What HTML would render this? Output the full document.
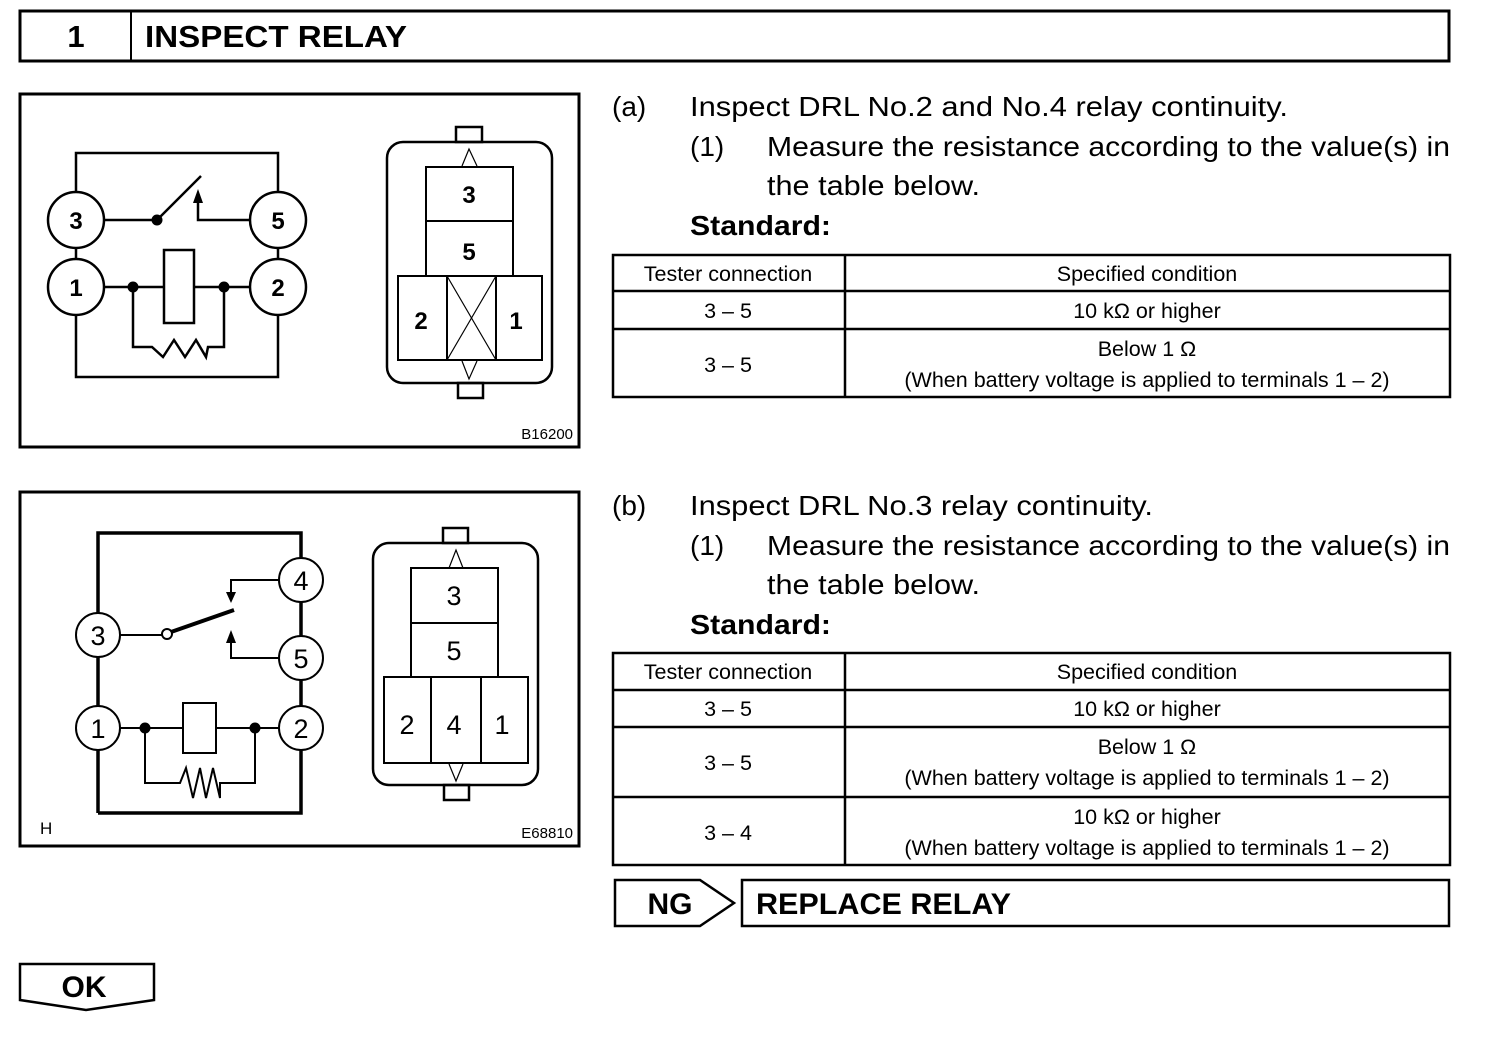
<!DOCTYPE html>
<html><head><meta charset="utf-8"><style>html,body{margin:0;padding:0;background:#fff}svg{display:block}</style></head>
<body>
<svg width="1504" height="1054" viewBox="0 0 1504 1054" xmlns="http://www.w3.org/2000/svg" font-family="Liberation Sans, Arial, sans-serif" fill="none" stroke="#000">
<!-- Header -->
<rect x="20" y="11" width="1429" height="50" stroke-width="3"/>
<line x1="131" y1="11" x2="131" y2="61" stroke-width="2"/>
<text x="76" y="47" font-size="31" font-weight="bold" fill="#000" stroke="none" text-anchor="middle">1</text>
<text x="145" y="47" font-size="31" font-weight="bold" fill="#000" stroke="none" textLength="262" lengthAdjust="spacingAndGlyphs">INSPECT RELAY</text>

<!-- Figure 1 -->
<rect x="20" y="94" width="559" height="353" stroke-width="3"/>
<g stroke-width="2.5">
<polyline points="76,192 76,153 278,153 278,192"/>
<polyline points="76,315 76,377 278,377 278,315"/>
<line x1="76" y1="247" x2="76" y2="259"/>
<line x1="278" y1="247" x2="278" y2="259"/>
<circle cx="76" cy="220" r="28"/><circle cx="278" cy="220" r="28"/>
<circle cx="76" cy="287" r="28"/><circle cx="278" cy="287" r="28"/>
<line x1="104" y1="220" x2="157" y2="220"/>
<line x1="157" y1="220" x2="201" y2="176"/>
<polyline points="250,220 198,220 198,200"/>
<rect x="164" y="250" width="30" height="73"/>
<line x1="104" y1="287" x2="164" y2="287"/>
<line x1="194" y1="287" x2="250" y2="287"/>
<polyline points="133,287 133,347 152,347 163,357 174,340 185,357 196,340 206,357 208,347 224,347 224,287"/>
</g>
<circle cx="157" cy="220" r="5" fill="#000"/>
<polygon points="198,189 193,203 203,203" fill="#000" stroke="none"/>
<circle cx="133" cy="287" r="5" fill="#000"/>
<circle cx="224" cy="287" r="5" fill="#000"/>
<g fill="#000" stroke="none" font-size="24" font-weight="bold" text-anchor="middle">
<text x="76" y="229">3</text><text x="278" y="229">5</text>
<text x="76" y="296">1</text><text x="278" y="296">2</text>
<text x="469" y="203">3</text><text x="469" y="260">5</text>
<text x="421" y="329">2</text><text x="516" y="329">1</text>
</g>
<g stroke-width="2.5">
<rect x="456" y="127" width="26" height="15"/>
<rect x="458" y="383" width="25" height="15"/>
<rect x="387" y="142" width="165" height="241" rx="16"/>
</g>
<g stroke-width="2">
<rect x="426" y="167" width="87" height="54"/>
<rect x="426" y="221" width="87" height="55"/>
<rect x="398" y="276" width="144" height="84"/>
<line x1="447" y1="276" x2="447" y2="360"/>
<line x1="496" y1="276" x2="496" y2="360"/>
</g>
<g stroke-width="1.2">
<line x1="447" y1="276" x2="496" y2="360"/><line x1="496" y1="276" x2="447" y2="360"/>
<polyline points="462,166 469,149 477,166"/>
<polyline points="462,361 469,379 477,361"/>
</g>
<text x="573" y="439" font-size="15" fill="#000" stroke="none" text-anchor="end">B16200</text>

<!-- Figure 2 -->
<rect x="20" y="492" width="559" height="354" stroke-width="3"/>
<g stroke-width="3.5">
<polyline points="98,613 98,533 301,533 301,558"/>
<line x1="98" y1="657" x2="98" y2="706"/>
<line x1="98" y1="750" x2="98" y2="813"/>
<polyline points="98,813 301,813 301,750"/>
<line x1="301" y1="602" x2="301" y2="636"/>
<line x1="301" y1="680" x2="301" y2="706"/>
</g>
<g stroke-width="2">
<circle cx="98" cy="635" r="22"/><circle cx="301" cy="580" r="22"/>
<circle cx="301" cy="658" r="22"/><circle cx="98" cy="728" r="22"/>
<circle cx="301" cy="728" r="22"/>
<line x1="120" y1="635" x2="162" y2="635"/>
<polyline points="279,580 231,580 231,594"/>
<polyline points="279,658 231,658 231,640"/>
<rect x="183" y="703" width="33" height="50"/>
<line x1="120" y1="728" x2="183" y2="728"/>
<line x1="216" y1="728" x2="279" y2="728"/>
<polyline points="145,728 145,783 180,783 186,768 193,798 200,768 206,798 213,768 220,798 220,783 255,783 255,728"/>
<circle cx="167" cy="634" r="5" fill="#fff"/>
</g>
<line x1="171" y1="632" x2="234" y2="610" stroke-width="4"/>
<polygon points="231,603 226,592 236,592" fill="#000" stroke="none"/>
<polygon points="231,630 226,643 236,643" fill="#000" stroke="none"/>
<circle cx="145" cy="728" r="5" fill="#000"/>
<circle cx="255" cy="728" r="5" fill="#000"/>
<g fill="#000" stroke="none" font-size="27" text-anchor="middle">
<text x="98" y="645">3</text><text x="301" y="590">4</text><text x="301" y="668">5</text>
<text x="98" y="738">1</text><text x="301" y="738">2</text>
<text x="454" y="605">3</text><text x="454" y="660">5</text>
<text x="407" y="734">2</text><text x="454" y="734">4</text><text x="502" y="734">1</text>
</g>
<g stroke-width="2.5">
<rect x="443" y="528" width="25" height="15"/>
<rect x="444" y="785" width="25" height="15"/>
<rect x="373" y="543" width="165" height="242" rx="16"/>
</g>
<g stroke-width="2">
<rect x="411" y="568" width="87" height="55"/>
<rect x="411" y="623" width="87" height="54"/>
<rect x="384" y="677" width="144" height="86"/>
<line x1="431" y1="677" x2="431" y2="763"/>
<line x1="481" y1="677" x2="481" y2="763"/>
</g>
<g stroke-width="1.2">
<polyline points="449,568 456,550 463,568"/>
<polyline points="449,764 456,781 463,764"/>
</g>
<text x="40" y="834" font-size="17" fill="#000" stroke="none">H</text>
<text x="573" y="838" font-size="15" fill="#000" stroke="none" text-anchor="end">E68810</text>

<!-- Text blocks -->
<g fill="#000" stroke="none" font-size="28">
<text x="612" y="116">(a)</text>
<text x="690" y="116" textLength="598" lengthAdjust="spacingAndGlyphs">Inspect DRL No.2 and No.4 relay continuity.</text>
<text x="690" y="156">(1)</text>
<text x="767" y="156" textLength="683" lengthAdjust="spacingAndGlyphs">Measure the resistance according to the value(s) in</text>
<text x="767" y="195" textLength="213" lengthAdjust="spacingAndGlyphs">the table below.</text>
<text x="690" y="235" font-weight="bold" textLength="141" lengthAdjust="spacingAndGlyphs">Standard:</text>
<text x="612" y="515">(b)</text>
<text x="690" y="515" textLength="463" lengthAdjust="spacingAndGlyphs">Inspect DRL No.3 relay continuity.</text>
<text x="690" y="555">(1)</text>
<text x="767" y="555" textLength="683" lengthAdjust="spacingAndGlyphs">Measure the resistance according to the value(s) in</text>
<text x="767" y="594" textLength="213" lengthAdjust="spacingAndGlyphs">the table below.</text>
<text x="690" y="634" font-weight="bold" textLength="141" lengthAdjust="spacingAndGlyphs">Standard:</text>
</g>

<!-- Table 1 -->
<g stroke-width="2.5">
<rect x="613" y="255" width="837" height="142"/>
<line x1="845" y1="255" x2="845" y2="397"/>
<line x1="613" y1="291" x2="1450" y2="291"/>
<line x1="613" y1="329" x2="1450" y2="329"/>
</g>
<g fill="#000" stroke="none" font-size="21.5" text-anchor="middle">
<text x="728" y="281">Tester connection</text><text x="1147" y="281">Specified condition</text>
<text x="728" y="318">3 – 5</text><text x="1147" y="318">10 kΩ or higher</text>
<text x="728" y="372">3 – 5</text><text x="1147" y="356">Below 1 Ω</text>
<text x="1147" y="387">(When battery voltage is applied to terminals 1 – 2)</text>
</g>

<!-- Table 2 -->
<g stroke-width="2.5">
<rect x="613" y="653" width="837" height="212"/>
<line x1="845" y1="653" x2="845" y2="865"/>
<line x1="613" y1="690" x2="1450" y2="690"/>
<line x1="613" y1="727" x2="1450" y2="727"/>
<line x1="613" y1="797" x2="1450" y2="797"/>
</g>
<g fill="#000" stroke="none" font-size="21.5" text-anchor="middle">
<text x="728" y="679">Tester connection</text><text x="1147" y="679">Specified condition</text>
<text x="728" y="716">3 – 5</text><text x="1147" y="716">10 kΩ or higher</text>
<text x="728" y="770">3 – 5</text><text x="1147" y="754">Below 1 Ω</text>
<text x="1147" y="785">(When battery voltage is applied to terminals 1 – 2)</text>
<text x="728" y="840">3 – 4</text><text x="1147" y="824">10 kΩ or higher</text>
<text x="1147" y="855">(When battery voltage is applied to terminals 1 – 2)</text>
</g>

<!-- NG / Replace -->
<polygon points="615,880 700,880 734,903 700,926 615,926" stroke-width="2.5"/>
<rect x="742" y="880" width="707" height="46" stroke-width="2.5"/>
<text x="670" y="914" font-size="30" font-weight="bold" fill="#000" stroke="none" text-anchor="middle">NG</text>
<text x="756" y="914" font-size="30" font-weight="bold" fill="#000" stroke="none" textLength="255" lengthAdjust="spacingAndGlyphs">REPLACE RELAY</text>

<!-- OK -->
<polygon points="20,964 154,964 154,1000 86,1010 20,1000" stroke-width="2.5"/>
<text x="84" y="997" font-size="30" font-weight="bold" fill="#000" stroke="none" text-anchor="middle">OK</text>
</svg>
</body></html>
